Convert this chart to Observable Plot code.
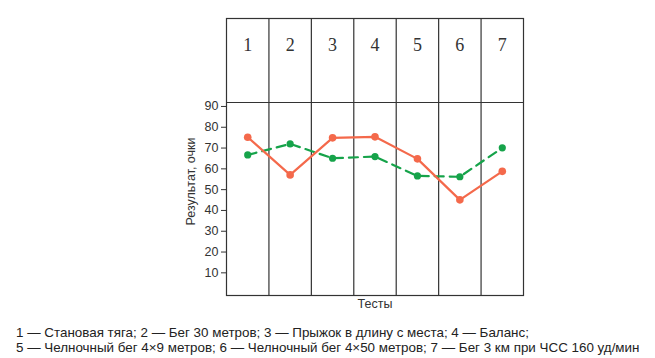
<!DOCTYPE html>
<html>
<head>
<meta charset="utf-8">
<script src="https://cdn.jsdelivr.net/npm/d3@7"></script>
<script src="https://cdn.jsdelivr.net/npm/@observablehq/plot@0.6"></script>
<style>
  html, body { margin: 0; padding: 0; background: #fff; }
  #chart { width: 655px; height: 318px; }
  #caption { font-family: "Liberation Sans", Arial, sans-serif; font-size: 13.4px; line-height: 15px; color: #222; padding: 7px 0 0 16px; white-space: nowrap; }
</style>
</head>
<body>
<div id="chart"></div>
<div id="caption"></div>
<script>
// Data
const tests = [1, 2, 3, 4, 5, 6, 7];
const redSeries = [75.2, 57.1, 74.9, 75.4, 64.8, 45.1, 58.8];
const greenSeries = [66.7, 72.0, 65.1, 65.9, 56.6, 56.2, 70.1];
const yTicks = [10, 20, 30, 40, 50, 60, 70, 80, 90];
const yLabel = "Результат, очки";
const xLabel = "Тесты";
const captionLines = [
  "1 — Становая тяга; 2 — Бег 30 метров; 3 — Прыжок в длину с места; 4 — Баланс;",
  "5 — Челночный бег 4×9 метров; 6 — Челночный бег 4×50 метров; 7 — Бег 3 км при ЧСС 160 уд/мин"
];

const red = tests.map((t, i) => ({test: t, value: redSeries[i]}));
const green = tests.map((t, i) => ({test: t, value: greenSeries[i]}));
const dividers = tests.slice(0, -1).map(t => t + 0.5);

const headerLine = 91.9;
const headerText = 119.3;

const redColor = "#f4694b";
const greenColor = "#16a34a";

const plot = Plot.plot({
  width: 655,
  height: 318,
  marginLeft: 226,
  marginRight: 132,
  marginTop: 18,
  marginBottom: 23,
  style: {fontFamily: "'Liberation Sans', Arial, sans-serif", fontSize: "12.5px", color: "#333", background: "#fff"},
  x: {domain: [0.5, 7.5], axis: null},
  y: {domain: [-0.9, 132.3], axis: null},
  marks: [
    Plot.axisY({ticks: yTicks, tickSize: 5, tickPadding: 3, label: null, stroke: "#333", fill: "#333", fontSize: 12.5}),
    Plot.ruleX(dividers, {stroke: "#333", strokeWidth: 1.2}),
    Plot.ruleY([headerLine], {stroke: "#333", strokeWidth: 1.2}),
    Plot.frame({stroke: "#333", strokeWidth: 1.2}),
    Plot.text(tests, {x: d => d, y: () => headerText, text: d => String(d), fontFamily: "'Liberation Serif', 'Times New Roman', serif", fontSize: 18, fill: "#333"}),
    Plot.line(green, {x: "test", y: "value", stroke: greenColor, strokeWidth: 2.2, strokeDasharray: "9,6"}),
    Plot.dot(green, {x: "test", y: "value", r: 3.6, fill: greenColor}),
    Plot.line(red, {x: "test", y: "value", stroke: redColor, strokeWidth: 2.2}),
    Plot.dot(red, {x: "test", y: "value", r: 3.8, fill: redColor}),
    Plot.text([yLabel], {x: 0.5, y: 53.9, text: d => d, rotate: -90, dx: -36, fontSize: 12.5, fill: "#333"}),
    Plot.text([xLabel], {frameAnchor: "bottom", text: d => d, dy: 12, fontSize: 12.5, fill: "#333"})
  ]
});
document.getElementById("chart").appendChild(plot);
document.getElementById("caption").innerHTML = captionLines.map(s => `<div>${s}</div>`).join("");
</script>
</body>
</html>
